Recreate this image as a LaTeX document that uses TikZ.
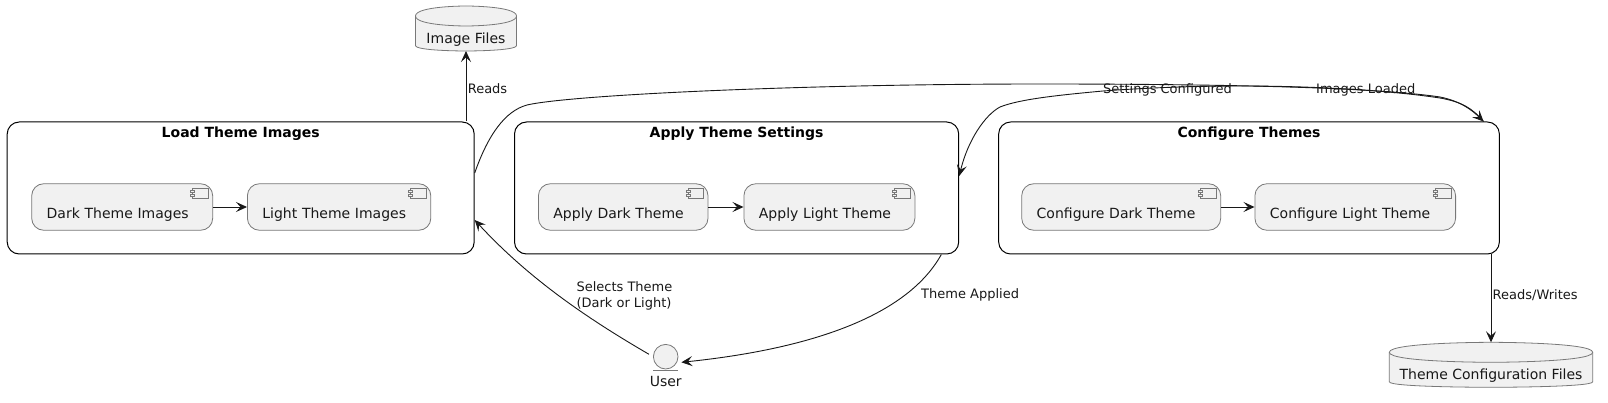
\documentclass[tikz,border=0pt]{standalone}
\usepackage{fontspec}
\setmainfont{DejaVu Sans}
\usetikzlibrary{arrows.meta,positioning}
\definecolor{compfill}{RGB}{241,241,241}
\definecolor{compline}{RGB}{120,120,120}
\definecolor{ink}{RGB}{24,24,24}
\tikzset{
  >={Stealth[length=11pt,width=10pt,inset=4.5pt]},
  frame/.style={draw=black,line width=1pt,rounded corners=12pt,minimum height=132pt,inner sep=0pt},
  frametitle/.style={font=\fontsize{14}{16}\selectfont\bfseries,text=black,inner sep=0pt},
  comp/.style={draw=compline,line width=0.8pt,fill=compfill,rounded corners=12pt,anchor=west,align=left,
    inner xsep=15pt,inner ysep=0pt,minimum height=46.5pt,text height=22.5pt,text depth=0pt,
    font=\fontsize{14}{16}\selectfont,text=ink},
  compicon/.style={draw=compline,line width=0.7pt,fill=compfill},
  dbbody/.style={inner sep=0pt,outer sep=0pt,minimum height=45pt},
  dbline/.style={draw=compline,line width=0.8pt,fill=compfill},
  dbtext/.style={font=\fontsize{14}{16}\selectfont,text=ink,inner sep=0pt},
  flow/.style={->,draw=ink,line width=0.9pt},
  tag/.style={font=\fontsize{13}{15.5}\selectfont,text=ink,inner sep=0pt,align=left},
}

\begin{document}
\begin{tikzpicture}[x=1pt,y=-1pt]
  \useasboundingbox (0,0) rectangle (1608,403);
  \foreach \n/\t/\x/\w in {load/Load Theme Images/240.7/467,
      apply/Apply Theme Settings/736.6/444.2,
      conf/Configure Themes/1249/500.7}
  {
    \node[frame,minimum width=\w pt] (\n) at (\x,188) {};
    \node[frametitle] (\n title) at ([yshift=-12.5pt]\n.north) {\t};
  }
  \foreach \n/\t/\x/\w in {darkimg/Dark Theme Images/31.3/151,
      lightimg/Light Theme Images/247/153.4,
      darkapply/Apply Dark Theme/538/139.6,
      lightapply/Apply Light Theme/743.5/141,
      darkconf/Configure Dark Theme/1021.3/169,
      lightconf/Configure Light Theme/1254.5/170.7}
  {
    \node[comp,text width=\w pt] (\n) at (\x,207) {\t};
    \draw[compicon] ([shift={(-20.5pt,-5pt)}]\n.north east) rectangle ([shift={(-5pt,-15.5pt)}]\n.north east);
    \draw[compicon] ([shift={(-22.5pt,-7.5pt)}]\n.north east) rectangle ([shift={(-18.5pt,-9.5pt)}]\n.north east);
    \draw[compicon] ([shift={(-22.5pt,-11pt)}]\n.north east) rectangle ([shift={(-18.5pt,-13pt)}]\n.north east);
  }
  \foreach \n/\t/\x/\y/\w in {imgdb/Image Files/466/28.5/101,
      cfgdb/Theme Configuration Files/1491/364.8/203.4}
  {
    \node[dbbody,minimum width=\w pt] (\n) at (\x,\y) {};
    \filldraw[dbline] ([yshift=-10pt]\n.north west) .. controls (\n.north west) and (\n.north) .. (\n.north)
      .. controls (\n.north) and (\n.north east) .. ([yshift=-10pt]\n.north east)
      -- ([yshift=5.5pt]\n.south east) .. controls (\n.south east) and (\n.south) .. (\n.south)
      .. controls (\n.south) and (\n.south west) .. ([yshift=5.5pt]\n.south west) -- cycle;
    \draw[dbline,fill=none] ([yshift=-10pt]\n.north east) .. controls ([yshift=-20pt]\n.north east) and ([yshift=-20pt]\n.north) .. ([yshift=-20pt]\n.north)
      .. controls ([yshift=-20pt]\n.north) and ([yshift=-20pt]\n.north west) .. ([yshift=-10pt]\n.north west);
    \node[dbtext] (\n text) at ([yshift=-11pt]\n.center) {\t};
  }
  \node[circle,draw=compline,line width=0.8pt,fill=compfill,minimum size=24.6pt,inner sep=0pt] (user) at (665.7,356.7) {};
  \draw[draw=compline,line width=0.8pt] ([shift={(-12.3pt,-1.3pt)}]user.south) -- ([shift={(12.3pt,-1.3pt)}]user.south);
  \node[dbtext] (usertext) at (665.7,381.3) {User};

  \draw[flow] (darkimg) -- (lightimg);
  \draw[flow] (darkapply) -- (lightapply);
  \draw[flow] (darkconf) -- (lightconf);
  \draw[flow] (imgdb.south |- load.north) -- (imgdb.south);
  \draw[flow] (cfgdb.north |- conf.south) -- (cfgdb.north);
  \draw[flow] ([yshift=15pt]load.east) .. controls (488,135) and (505,111) .. (527,105)
    .. controls (570,95) and (800,84) .. (1040,84)
    .. controls (1240,84) and (1380,88) .. (1440,97)
    .. controls (1460,101) and (1472,110) .. ([xshift=-16.3pt]conf.north east);
  \draw[flow] ([xshift=-16.3pt]conf.north east) .. controls (1472,108) and (1462,102) .. (1440,98)
    .. controls (1380,89) and (1300,86) .. (1241,86)
    .. controls (1180,86) and (1130,89) .. (1103,91)
    .. controls (1060,95) and (1020,99) .. (1000,107)
    .. controls (985,115) and (968,140) .. ([yshift=12pt]apply.east);
  \draw[flow] ([shift={(-4pt,2.4pt)}]user.west) .. controls (590,320) and (530,280) .. ([yshift=-32pt]load.east);
  \draw[flow] ([xshift=-17.9pt]apply.south east) .. controls (905,320) and (800,350) .. ([shift={(3pt,-5.6pt)}]user.east);

  \node[tag,anchor=west] (readstag) at (467.6,89) {Reads};
  \node[tag,anchor=west] (writestag) at (1492.5,295) {Reads/Writes};
  \node[tag,anchor=west] (settingstag) at (1103,90) {Settings Configured};
  \node[tag,anchor=west] (imagestag) at (1316,90) {Images Loaded};
  \node[tag,anchor=west] (selecttag) at (576.3,296) {Selects Theme\\(Dark or Light)};
  \node[tag,anchor=west] (appliedtag) at (921,295) {Theme Applied};
\end{tikzpicture}
\end{document}
